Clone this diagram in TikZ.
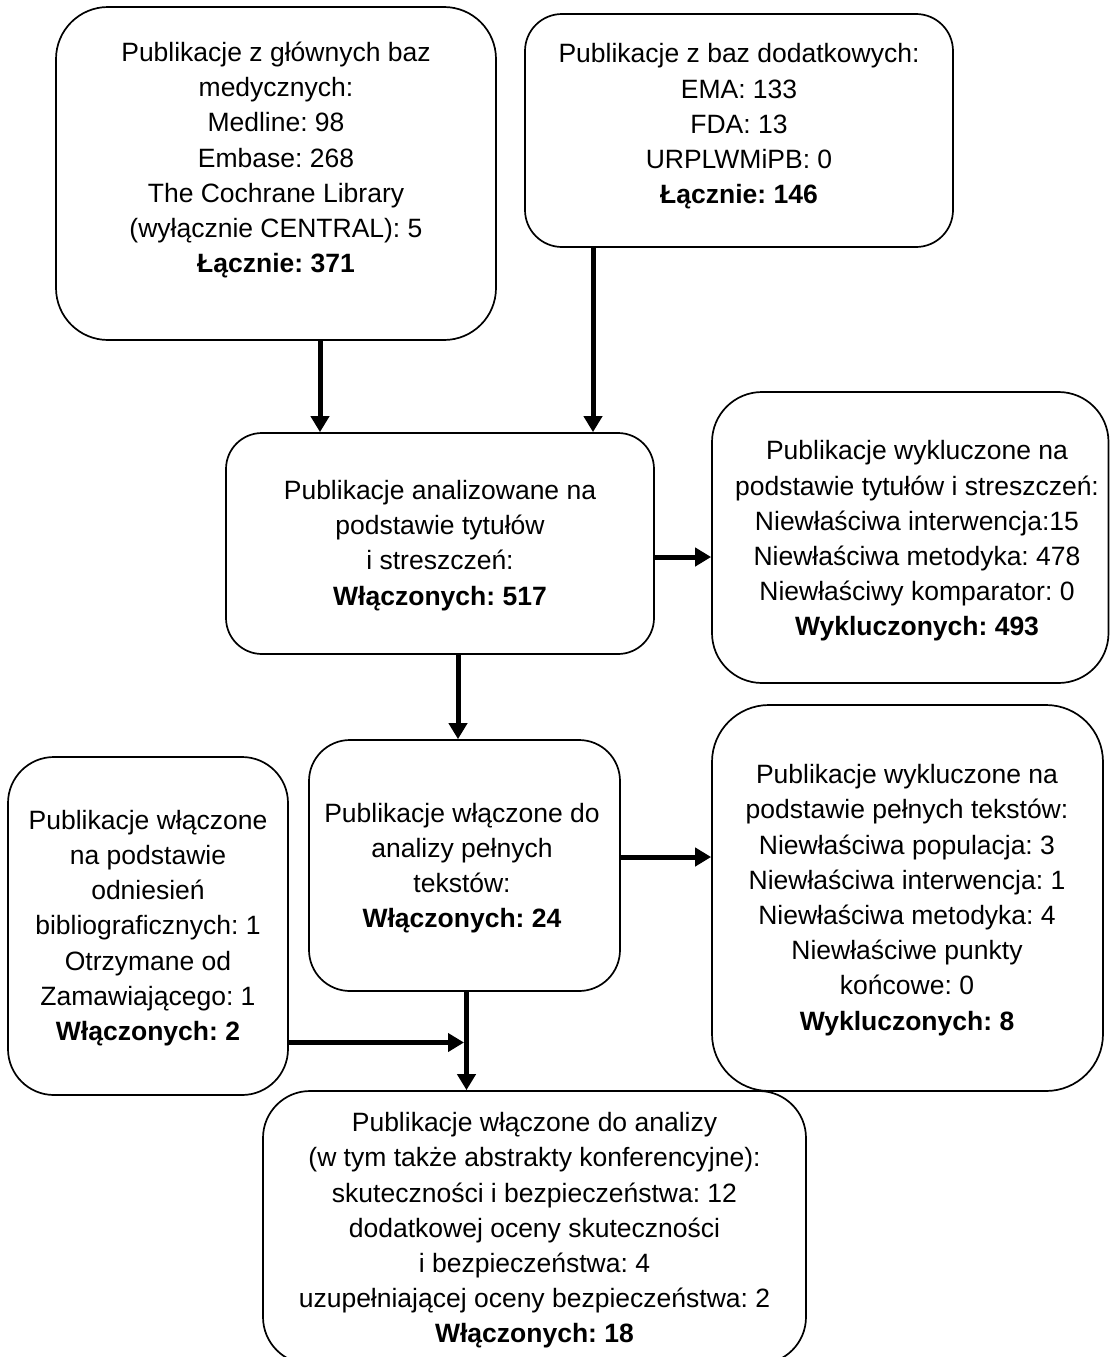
\documentclass[tikz,border=0pt]{standalone}
\usepackage{fontspec}
\setmainfont{Liberation Sans}
\usetikzlibrary{arrows.meta}
\frenchspacing
\begin{document}
\begin{tikzpicture}[x=1pt,y=-1pt,
  box/.style={draw=black, line width=1.7pt, rounded corners=#1, inner sep=0pt, fill=white},
  txt/.style={align=center, inner sep=0pt, font=\fontsize{26.5pt}{35.2pt}\selectfont\frenchspacing},
  arr/.style={line width=5pt, -{Triangle[length=16pt,width=18pt]}}]
\clip (0,0) rectangle (1110,1357);
\fill[white] (0,0) rectangle (1110,1357);
% boxes
\node[box=52pt, minimum width=440pt, minimum height=333pt] (b1) at (276,173.5) {};
\node[box=37pt, minimum width=428pt, minimum height=233pt] (b2) at (739,130.5) {};
\node[box=36pt, minimum width=428pt, minimum height=221pt] (b3) at (440,543.5) {};
\node[box=50pt, minimum width=396.5pt, minimum height=291pt] (b4) at (910.25,537.5) {};
\node[box=46pt, minimum width=280pt, minimum height=338pt] (b5) at (148,926) {};
\node[box=41pt, minimum width=311pt, minimum height=251pt] (b6) at (464.5,865.5) {};
\node[box=57pt, minimum width=391pt, minimum height=386pt] (b7) at (907.5,898) {};
\node[box=47pt, minimum width=543pt, minimum height=273pt] (b8) at (534.5,1227.5) {};
% texts
\node[txt] (t1) at (276,160) {Publikacje z głównych baz\\medycznych:\\Medline: 98\\Embase: 268\\The Cochrane Library\\(wyłącznie CENTRAL): 5\\\textbf{Łącznie: 371}};
\node[txt] (t2) at (739,126.5) {Publikacje z baz dodatkowych:\\EMA: 133\\FDA: 13\\URPLWMiPB: 0\\\textbf{Łącznie: 146}};
\node[txt] (t3) at (440,545.5) {Publikacje analizowane na\\podstawie tytułów\\i streszczeń:\\\textbf{Włączonych: 517}};
\node[txt] (t4) at (917,541) {Publikacje wykluczone na\\podstawie tytułów i streszczeń:\\Niewłaściwa interwencja:15\\Niewłaściwa metodyka: 478\\Niewłaściwy komparator: 0\\\textbf{Wykluczonych: 493}};
\node[txt] (t5) at (148,928) {Publikacje włączone\\na podstawie\\odniesień\\bibliograficznych: 1\\Otrzymane od\\Zamawiającego: 1\\\textbf{Włączonych: 2}};
\node[txt] (t6) at (462,868) {Publikacje włączone do\\analizy pełnych\\tekstów:\\\textbf{Włączonych: 24}};
\node[txt] (t7) at (907,900) {Publikacje wykluczone na\\podstawie pełnych tekstów:\\Niewłaściwa populacja: 3\\Niewłaściwa interwencja: 1\\Niewłaściwa metodyka: 4\\Niewłaściwe punkty\\końcowe: 0\\\textbf{Wykluczonych: 8}};
\node[txt] (t8) at (534.5,1230.5) {Publikacje włączone do analizy\\(w tym także abstrakty konferencyjne):\\skuteczności i bezpieczeństwa: 12\\dodatkowej oceny skuteczności\\i bezpieczeństwa: 4\\uzupełniającej oceny bezpieczeństwa: 2\\\textbf{Włączonych: 18}};
% connectors
\coordinate (j) at (464,1042.5);
\draw[arr] (b1.south -| 320,0) -- (b3.north -| 320,0);
\draw[arr] (b2.south -| 593,0) -- (b3.north -| 593,0);
\draw[arr] (b3.east |- 0,557) -- (b4.west |- 0,557);
\draw[arr] (b3.south -| 458,0) -- (b6.north -| 458,0);
\draw[arr] (b6.east |- 0,857) -- (b7.west |- 0,857);
\draw[arr] (b6.south -| 466.5,0) -- (b8.north -| 466.5,0);
\draw[arr] (b5.east |- j) -- (j);
\end{tikzpicture}
\end{document}
